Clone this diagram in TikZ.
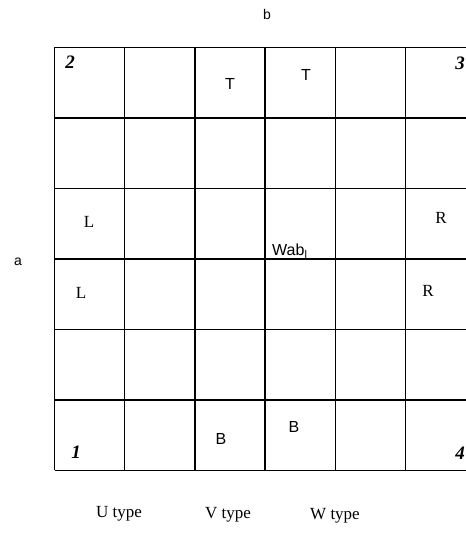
\documentclass[tikz,border=0pt]{standalone}
\usepackage{fontspec}
\setmainfont{Liberation Serif}
\setsansfont{Liberation Sans}
\begin{document}
\begin{tikzpicture}[x=1pt,y=1pt,
  gridline/.style={line width=1.3pt, black},
  sanslbl/.style={font=\sffamily\fontsize{16}{18}\selectfont, inner sep=0pt},
  axislbl/.style={font=\sffamily\fontsize{14}{16}\selectfont, inner sep=0pt},
  seriflbl/.style={font=\rmfamily\fontsize{17}{19}\selectfont, inner sep=0pt},
  cornerlbl/.style={font=\rmfamily\bfseries\itshape\fontsize{19}{21}\selectfont, inner sep=0pt}]
\useasboundingbox (0,0) rectangle (466,533);
\clip (0,0) rectangle (466,533);
% grid: columns and rows (image y flipped: y = 533 - y_img)
\foreach \i in {0,...,6} {
  \draw[gridline] ({54.5+70.2*\i},{533-47.5}) -- ({54.5+70.2*\i},{533-470.5});
  \draw[gridline] (54.5,{533-47.5-70.5*\i}) -- (475.7,{533-47.5-70.5*\i});
}
% axis labels
\node[axislbl] (b) at (267,{533-15}) {b};
\node[axislbl] (a) at (18,{533-262}) {a};
% corner numbers
\node[cornerlbl] (c2) at (70,{533-62}) {2};
\node[cornerlbl] (c3) at (460,{533-63}) {3};
\node[cornerlbl] (c1) at (76,{533-452}) {1};
\node[cornerlbl] (c4) at (460,{533-453}) {4};
% cell labels
\node[sanslbl] (t1) at (230,{533-84}) {T};
\node[sanslbl] (t2) at (306,{533-75}) {T};
\node[seriflbl] (l1) at (89,{533-222}) {L};
\node[seriflbl] (l2) at (81,{533-293}) {L};
\node[seriflbl] (r1) at (441,{533-218}) {R};
\node[seriflbl] (r2) at (428,{533-291}) {R};
\node[sanslbl, anchor=base west] (w) at (272,{533-256}) {Wab\textsubscript{l}};
\node[sanslbl] (b1) at (221,{533-439}) {B};
\node[sanslbl] (b2) at (294,{533-427}) {B};
% type labels
\node[seriflbl, anchor=base] (u) at (119,{533-518}) {U type};
\node[seriflbl, anchor=base] (v) at (228,{533-519}) {V type};
\node[seriflbl, anchor=base] (wt) at (335,{533-520}) {W type};
\end{tikzpicture}
\end{document}
